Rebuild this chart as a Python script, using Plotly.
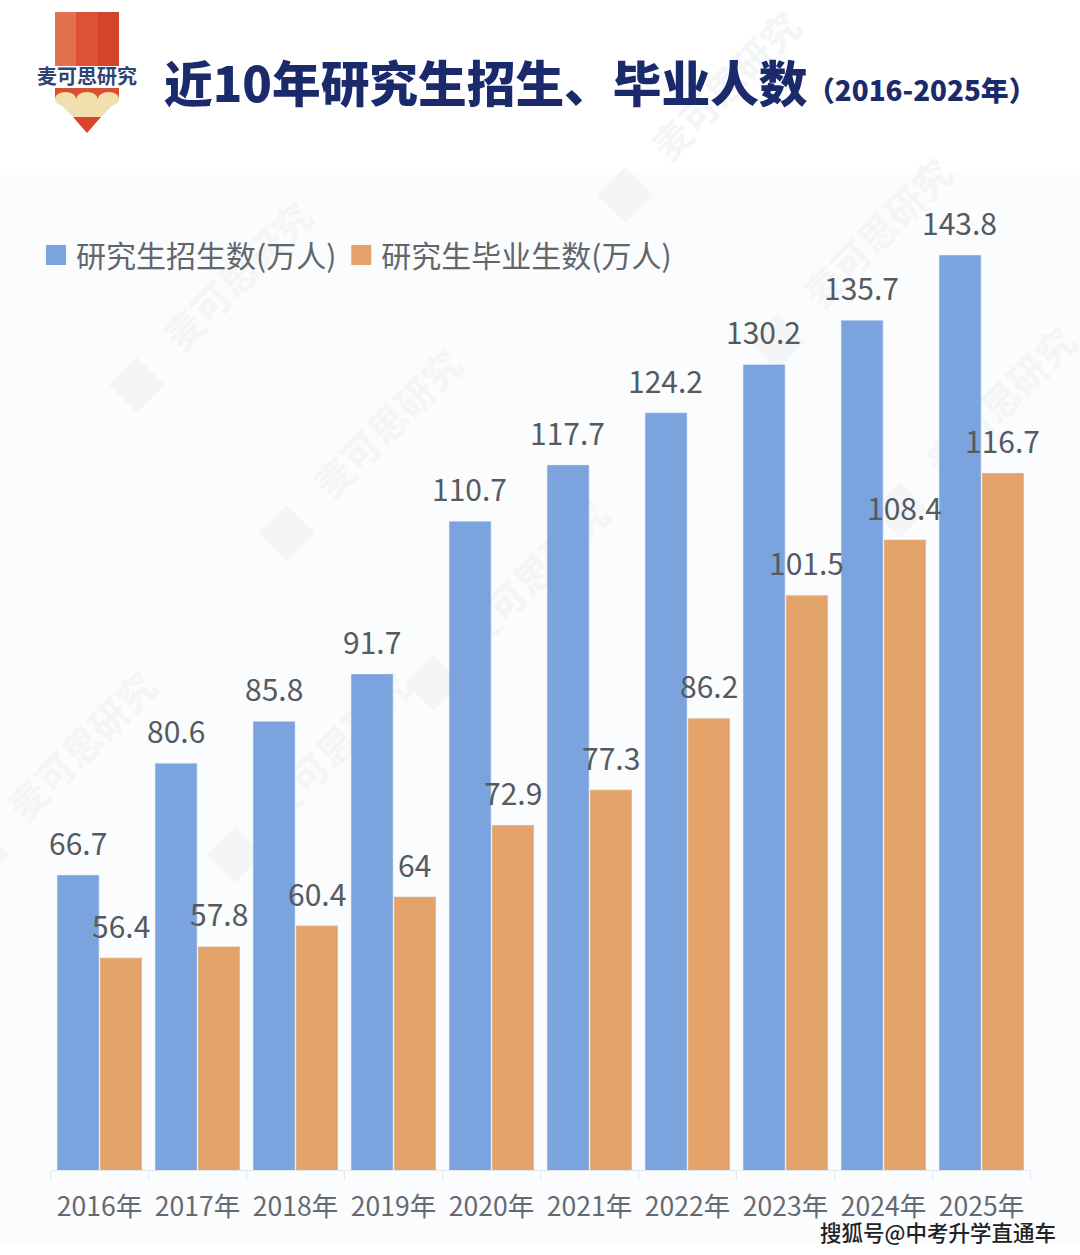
import plotly.graph_objects as go

W, H = 1080, 1255
L, R, T, B = 50.5, 1030.5, 180, 1170

years = ["2016年", "2017年", "2018年", "2019年", "2020年", "2021年", "2022年", "2023年", "2024年", "2025年"]
enrolled = [66.7, 80.6, 85.8, 91.7, 110.7, 117.7, 124.2, 130.2, 135.7, 143.8]
graduated = [56.4, 57.8, 60.4, 64, 72.9, 77.3, 86.2, 101.5, 108.4, 116.7]
enrolled_name = "研究生招生数(万人)"
graduated_name = "研究生毕业生数(万人)"
title_text = "近10年研究生招生、毕业人数"
subtitle_text = "（2016-2025年）"
logo_text = "麦可思研究"
credit_text = "搜狐号@中考升学直通车"
watermark_text = "麦可思研究"

BLUE, ORANGE = "#7ba3dd", "#e4a469"
FONT = "Noto Sans CJK SC"
WM = "#f4f5f7"
CREAM = "#efe0ad"


def px(x):
    return x / W


def py(y):
    return (H - y) / H


def rect(x0, y0, x1, y1, color):
    return dict(type="rect", xref="paper", yref="paper", x0=px(x0), x1=px(x1), y0=py(y0), y1=py(y1),
                fillcolor=color, line_width=0, layer="below")


def ellipse(cx, cy, rx, ry, color):
    return dict(type="circle", xref="paper", yref="paper", x0=px(cx - rx), x1=px(cx + rx), y0=py(cy + ry), y1=py(cy - ry),
                fillcolor=color, line_width=0, layer="below")


def poly(points, color):
    d = "M" + " L".join(f"{px(a):.5f},{py(b):.5f}" for a, b in points) + " Z"
    return dict(type="path", xref="paper", yref="paper", path=d, fillcolor=color, line_width=0, layer="below")


def note(x, y, text, size, color, weight="normal", xanchor="center"):
    return dict(xref="paper", yref="paper", x=px(x), y=py(y), text=text, showarrow=False, xanchor=xanchor,
                yanchor="middle", font=dict(family=FONT, size=size, color=color, weight=weight))


def watermark(dx, dy):
    cx, cy = dx + 104, dy - 106
    mark = rect(cx - 60, cy - 60, cx + 60, cy + 60, "rgba(0,0,0,0)")
    mark["label"] = dict(text=watermark_text, textangle=-45, textposition="middle center",
                         font=dict(family=FONT, size=38, color=WM, weight="bold"))
    diamond = poly([(dx - 28, dy), (dx, dy - 28), (dx + 28, dy), (dx, dy + 28)], WM)
    return [mark, diamond]


fig = go.Figure()
fig.add_bar(x=years, y=enrolled, base=0, marker_color=BLUE, showlegend=False)
fig.add_bar(x=years, y=graduated, base=0, marker_color=ORANGE, showlegend=False)
fig.add_scatter(x=[None], y=[None], mode="markers", name=enrolled_name,
                marker=dict(symbol="square", size=16, color=BLUE, line=dict(width=4, color=BLUE)))
fig.add_scatter(x=[None], y=[None], mode="markers", name=graduated_name,
                marker=dict(symbol="square", size=16, color=ORANGE, line=dict(width=4, color=ORANGE)))

shapes = [
    rect(0, 172, 1080, 178, "#fdfdfe"),
    rect(0, 178, 1080, 1243, "#fbfcfe"),
]
for dx, dy in [(137, 385), (287, 533), (433, 683), (625, 195), (777, 342), (900, 510), (-19, 855), (235, 855)]:
    shapes += watermark(dx, dy)
shapes += [
    rect(55, 12, 76, 66, "#e2714f"),
    rect(76, 12, 98, 66, "#dd5236"),
    rect(98, 12, 119, 66, "#d2452c"),
    rect(55, 88, 119, 99, "#d8502f"),
    poly([(55, 99), (119, 99), (101, 117), (73, 117)], CREAM),
    ellipse(65.5, 99, 10.7, 7, CREAM),
    ellipse(87, 99, 10.7, 7, CREAM),
    ellipse(108.5, 99, 10.7, 7, CREAM),
    poly([(73, 117), (101, 117), (87, 133)], "#d8452b"),
]

annotations = [
    note(162, 81, title_text, 48.7, "#1b2a6b", 900, xanchor="left"),
    note(805, 89, subtitle_text, 27.8, "#1b2a6b", 900, xanchor="left"),
    note(87, 76, logo_text, 20, "#2f4470", "bold"),
    note(938, 1231, credit_text, 21.5, "#222222", 500),
]

for i, year in enumerate(years):
    annotations.append(dict(x=year, y=enrolled[i], xref="x", yref="y", text=str(enrolled[i]), showarrow=False,
                            xshift=-22, yshift=9, yanchor="bottom",
                            font=dict(family=FONT, size=30, color="#555a60")))
    annotations.append(dict(x=year, y=graduated[i], xref="x", yref="y", text=str(graduated[i]), showarrow=False,
                            xshift=21, yshift=9, yanchor="bottom",
                            font=dict(family=FONT, size=30, color="#555a60")))

fig.update_layout(
    width=W, height=H,
    margin=dict(l=0, r=0, t=0, b=0, pad=0, autoexpand=False),
    paper_bgcolor="white", plot_bgcolor="rgba(0,0,0,0)",
    barmode="group", bargap=0.125, bargroupgap=0.02,
    font=dict(family=FONT),
    showlegend=True,
    legend=dict(orientation="h", x=px(36), y=py(229), xanchor="left", yanchor="top",
                bgcolor="rgba(0,0,0,0)", font=dict(family=FONT, size=30, color="#62666b"),
                itemwidth=30),
    shapes=shapes, annotations=annotations,
    xaxis=dict(type="category", domain=[L / W, R / W], range=[-0.5, 9.5],
               tickson="boundaries", ticks="outside", ticklen=10, tickcolor="#e3e8ef",
               showline=True, linecolor="#e3e8ef", linewidth=1, showgrid=False, zeroline=False,
               tickfont=dict(family=FONT, size=26.5, color="#666a70"), ticklabelstandoff=13),
    yaxis=dict(domain=[(H - B) / H, (H - T) / H], range=[30, 30 + (B - T) / 8.04],
               visible=False, showgrid=False, zeroline=False),
)

fig.write_html("out.html", config={"displayModeBar": False}, post_script="document.body.style.margin='0';")
